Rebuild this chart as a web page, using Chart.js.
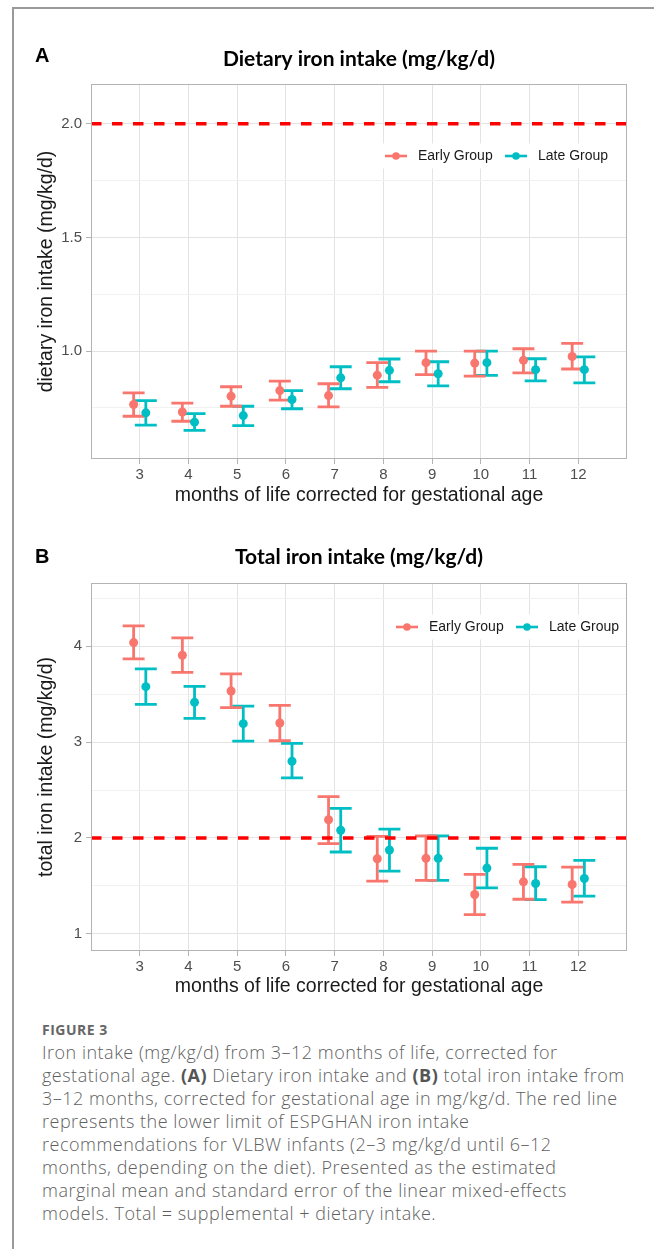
<!DOCTYPE html>
<html>
<head>
<meta charset="utf-8">
<script src="https://cdn.jsdelivr.net/npm/chart.js@4.4.1/dist/chart.umd.min.js"></script>
<style>
  html, body { margin: 0; padding: 0; background: #fff; }
  body { width: 654px; height: 1249px; position: relative; overflow: hidden; }
  .frame { position: absolute; left: 12px; top: 7px; width: 700px; height: 1300px;
           border-top: 2px solid #9a9a9a; border-left: 2px solid #9a9a9a; }
  canvas { position: absolute; left: 0; }
  #panelA { top: 0; }
  #panelB { top: 515px; }
  .fig-label { position: absolute; left: 42px; top: 1022px; font: bold 14px "Open Sans", sans-serif;
               color: #666; line-height: 16px; letter-spacing: 0.5px; }
  .caption { position: absolute; left: 42px; top: 1041px; font: 300 18px "Open Sans", sans-serif;
             color: #5f5f5f; line-height: 23px; white-space: nowrap; letter-spacing: 0.5px; }
  .caption b { font-weight: bold; color: #555; }
</style>
</head>
<body>
<div class="frame"></div>
<canvas id="panelA" width="654" height="515"></canvas>
<canvas id="panelB" width="654" height="490"></canvas>
<div class="fig-label">FIGURE 3</div>
<div class="caption">Iron intake (mg/kg/d) from 3–12 months of life, corrected for<br>gestational age. <b>(A)</b> Dietary iron intake and <b>(B)</b> total iron intake from<br>3–12 months, corrected for gestational age in mg/kg/d. The red line<br>represents the lower limit of ESPGHAN iron intake<br>recommendations for VLBW infants (2–3 mg/kg/d until 6–12<br>months, depending on the diet). Presented as the estimated<br>marginal mean and standard error of the linear mixed-effects<br>models. Total = supplemental + dietary intake.</div>

<script>
// months of life (corrected), shared by both panels
const months = [3, 4, 5, 6, 7, 8, 9, 10, 11, 12];
const monthLabels = ["3", "4", "5", "6", "7", "8", "9", "10", "11", "12"];

// A: dietary iron intake, estimated marginal mean +/- SE
const earlyDietMean = [0.765, 0.732, 0.801, 0.826, 0.804, 0.894, 0.949, 0.947, 0.959, 0.976];
const earlyDietLow  = [0.713, 0.691, 0.757, 0.784, 0.754, 0.840, 0.896, 0.890, 0.904, 0.921];
const earlyDietHigh = [0.816, 0.771, 0.843, 0.868, 0.856, 0.949, 1.000, 1.000, 1.010, 1.034];
const lateDietMean  = [0.728, 0.687, 0.716, 0.787, 0.882, 0.915, 0.900, 0.949, 0.918, 0.918];
const lateDietLow   = [0.674, 0.651, 0.672, 0.746, 0.834, 0.865, 0.847, 0.893, 0.869, 0.860];
const lateDietHigh  = [0.782, 0.725, 0.757, 0.826, 0.931, 0.965, 0.953, 1.000, 0.966, 0.974];

// B: total iron intake
const earlyTotMean = [4.038, 3.906, 3.533, 3.199, 2.189, 1.783, 1.787, 1.409, 1.542, 1.514];
const earlyTotLow  = [3.868, 3.728, 3.359, 3.014, 1.940, 1.549, 1.556, 1.199, 1.360, 1.329];
const earlyTotHigh = [4.213, 4.087, 3.711, 3.383, 2.430, 2.017, 2.021, 1.619, 1.724, 1.696];
const lateTotMean  = [3.578, 3.415, 3.192, 2.800, 2.080, 1.874, 1.787, 1.685, 1.524, 1.577];
const lateTotLow   = [3.394, 3.247, 3.010, 2.626, 1.853, 1.654, 1.556, 1.479, 1.357, 1.392];
const lateTotHigh  = [3.763, 3.582, 3.376, 2.986, 2.308, 2.091, 2.021, 1.892, 1.699, 1.766];

// ESPGHAN lower limit (red dashed line)
const ironLimit = 2;

// y axis ticks
const dietMajorTicks = [1.0, 1.5, 2.0];
const dietMajorLabels = ["1.0", "1.5", "2.0"];
const dietMinorTicks = [0.75, 1.25, 1.75];
const totMajorTicks = [1, 2, 3, 4];
const totMajorLabels = ["1", "2", "3", "4"];
const totMinorTicks = [1.5, 2.5, 3.5, 4.5];

const EARLY = "#F8766D";
const LATE = "#00BFC4";
const DODGE = 0.125;   // position_dodge half width
const CAP = 0.225;     // half width of error bar caps
const X_MIN = 2, X_MAX = 13;

Chart.defaults.font.family = "'Liberation Sans', Arial, sans-serif";

function pointsFor(means, shift) {
  return months.map((m, i) => ({ x: m + shift, y: means[i] }));
}

// one path per group: top cap, whisker, bottom cap, broken with null gaps
function errorBarsFor(low, high, shift) {
  const out = [];
  months.forEach((m, i) => {
    const x = m + shift;
    out.push({ x: x - CAP, y: high[i] }, { x: x + CAP, y: high[i] }, { x: x, y: null });
    out.push({ x: x, y: high[i] }, { x: x, y: low[i] }, { x: x, y: null });
    out.push({ x: x - CAP, y: low[i] }, { x: x + CAP, y: low[i] }, { x: x, y: null });
  });
  return out;
}

function buildDatasets(eMean, eLow, eHigh, lMean, lLow, lHigh) {
  const bar = { showLine: true, spanGaps: false, pointRadius: 0, borderWidth: 2.8, order: 2 };
  return [
    { label: "Early Group", legend: true, data: pointsFor(eMean, -DODGE), backgroundColor: EARLY,
      borderColor: EARLY, pointRadius: 4.5, pointBorderWidth: 0, order: 0 },
    { label: "Late Group", legend: true, data: pointsFor(lMean, DODGE), backgroundColor: LATE,
      borderColor: LATE, pointRadius: 4.5, pointBorderWidth: 0, order: 0 },
    { ...bar, data: errorBarsFor(eLow, eHigh, -DODGE), borderColor: EARLY },
    { ...bar, data: errorBarsFor(lLow, lHigh, DODGE), borderColor: LATE },
    { data: [{ x: X_MIN, y: ironLimit }, { x: X_MAX, y: ironLimit }], showLine: true, pointRadius: 0,
      borderColor: "#FF0000", borderWidth: 3.5, borderDash: [10.5, 10.5], order: 1 }
  ];
}

// panel border, letter, title and the legend placed inside the panel
const panelDecor = {
  id: "panelDecor",
  afterDatasetsDraw(chart, args, opts) {
    const { ctx, chartArea: a } = chart;
    ctx.save();
    ctx.strokeStyle = "#B3B3B3";
    ctx.lineWidth = 1;
    ctx.strokeRect(a.left + 0.5, a.top + 0.5, a.width - 1, a.height - 1);

    const x0 = a.left + opts.legendDx, y0 = a.top + opts.legendDy;
    ctx.fillStyle = "#fff";
    ctx.fillRect(x0 - 14, y0 - 12.5, 231, 25);
    ctx.font = "14px 'Liberation Sans', Arial, sans-serif";
    ctx.textBaseline = "middle";
    ctx.textAlign = "left";
    chart.data.datasets.filter(d => d.legend).forEach((d, i) => {
      const cx = x0 + i * 120;
      ctx.strokeStyle = d.backgroundColor;
      ctx.lineWidth = 2.6;
      ctx.beginPath();
      ctx.moveTo(cx - 11, y0);
      ctx.lineTo(cx + 11, y0);
      ctx.stroke();
      ctx.fillStyle = d.backgroundColor;
      ctx.beginPath();
      ctx.arc(cx, y0, 3.8, 0, Math.PI * 2);
      ctx.fill();
      ctx.fillStyle = "#1A1A1A";
      ctx.fillText(d.label, cx + 22, y0 + 0.5);
    });

    ctx.fillStyle = "#000";
    ctx.textBaseline = "alphabetic";
    ctx.font = "bold 20px 'Liberation Sans', Arial, sans-serif";
    ctx.fillText(opts.letter, 35, a.top + opts.letterDy);
    ctx.font = "bold 21px Lato, sans-serif";
    ctx.textAlign = "center";
    ctx.fillText(opts.title, (a.left + a.right) / 2, a.top + opts.titleDy);
    ctx.restore();
  }
};

function yScale(min, max, majors, labels, minors, title) {
  const isMajor = v => majors.some(m => Math.abs(m - v) < 1e-9);
  return {
    min: min, max: max,
    afterBuildTicks: axis => {
      axis.ticks = majors.concat(minors).sort((p, q) => p - q).map(v => ({ value: v }));
    },
    afterFit: axis => { axis.width = 71; },
    border: { display: false },
    grid: {
      color: c => isMajor(c.tick.value) ? "#E3E3E3" : "#F1F1F1",
      lineWidth: 1,
      tickLength: 5,
      tickColor: c => isMajor(c.tick.value) ? "#B3B3B3" : "rgba(0,0,0,0)"
    },
    ticks: {
      color: "#4D4D4D",
      font: { size: 15 },
      padding: 4,
      callback: v => {
        const k = majors.findIndex(m => Math.abs(m - v) < 1e-9);
        return k >= 0 ? labels[k] : "";
      }
    },
    title: { display: true, text: title, color: "#1A1A1A", font: { size: 19.5 }, padding: { top: 14.8, bottom: 0 } }
  };
}

function xScale(height, titlePad) {
  return {
    type: "linear", min: X_MIN, max: X_MAX,
    afterBuildTicks: axis => { axis.ticks = months.map(v => ({ value: v })); },
    afterFit: axis => { axis.height = height; },
    border: { display: false },
    grid: { color: "#E3E3E3", lineWidth: 1, tickLength: 5, tickColor: "#B3B3B3" },
    ticks: {
      color: "#4D4D4D", font: { size: 15 }, padding: 2, maxRotation: 0, autoSkip: false,
      callback: v => monthLabels[months.indexOf(v)] || ""
    },
    title: { display: true, text: "months of life corrected for gestational age", color: "#1A1A1A",
             font: { size: 19.5 }, padding: { top: 0, bottom: titlePad } }
  };
}

function renderPanel(id, cfg) {
  new Chart(document.getElementById(id), {
    type: "scatter",
    data: { datasets: cfg.datasets },
    options: {
      responsive: false,
      animation: false,
      events: [],
      layout: { padding: { left: 20, right: 27, top: cfg.top, bottom: 0 } },
      plugins: {
        legend: { display: false },
        tooltip: { enabled: false },
        panelDecor: cfg.decor
      },
      scales: { x: cfg.x, y: cfg.y }
    },
    plugins: [panelDecor]
  });
}

renderPanel("panelA", {
  top: 84,
  datasets: buildDatasets(earlyDietMean, earlyDietLow, earlyDietHigh, lateDietMean, lateDietLow, lateDietHigh),
  x: xScale(56, 7.3),
  y: yScale(0.525, 2.175, dietMajorTicks, dietMajorLabels, dietMinorTicks, "dietary iron intake (mg/kg/d)"),
  decor: { letter: "A", title: "Dietary iron intake (mg/kg/d)", letterDy: -22, titleDy: -18, legendDx: 305, legendDy: 72 }
});

renderPanel("panelB", {
  top: 68,
  datasets: buildDatasets(earlyTotMean, earlyTotLow, earlyTotHigh, lateTotMean, lateTotLow, lateTotHigh),
  x: xScale(54, 6.3),
  y: yScale(0.82, 4.66, totMajorTicks, totMajorLabels, totMinorTicks, "total iron intake (mg/kg/d)"),
  decor: { letter: "B", title: "Total iron intake (mg/kg/d)", letterDy: -20, titleDy: -19, legendDx: 316, legendDy: 44 }
});
</script>
</body>
</html>
